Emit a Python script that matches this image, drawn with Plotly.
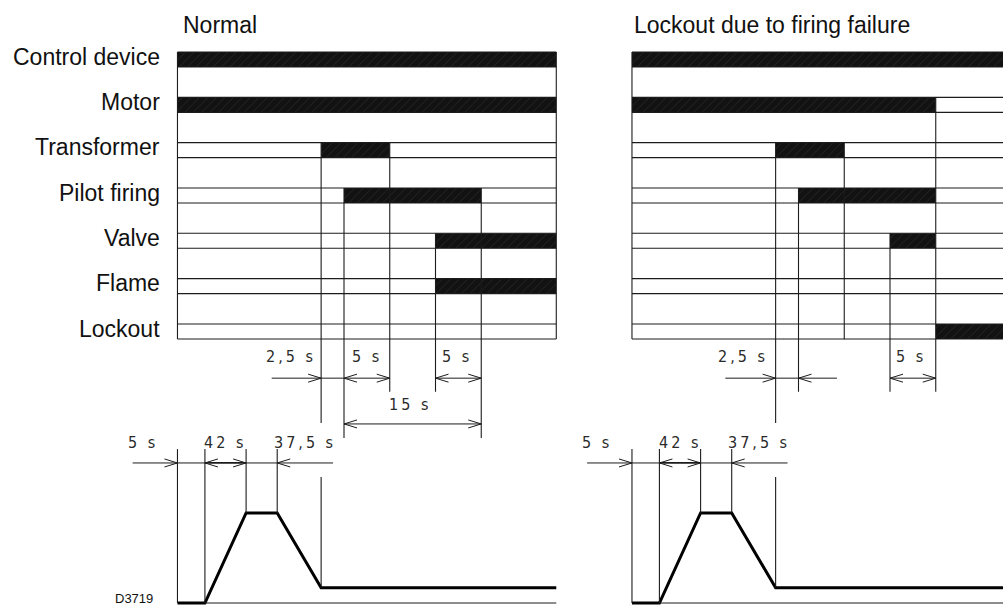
import plotly.graph_objects as go

# ---- timing data, seconds, 0 = start of pilot firing ----
signals = ["Control device", "Motor", "Transformer", "Pilot firing", "Valve", "Flame", "Lockout"]
T_MIN, T_MAX = -18.2, 23.2

normal_on = [T_MIN, T_MIN, -2.5, 0, 10, 10, None]
normal_off = [T_MAX, T_MAX, 5, 15, T_MAX, T_MAX, None]
failure_on = [T_MIN, T_MIN, -2.5, 0, 10, None, 15]
failure_off = [T_MAX, 15, 5, 15, 15, None, T_MAX]

# switching instants, row where each guide line starts, where it ends
normal_marks = [-2.5, 0, 5, 10, 15]
normal_mark_rows = [2, 3, 2, 4, 3]
normal_mark_ends = [8.02, 8.35, 7.33, 7.33, 8.35]
failure_marks = [-2.5, 0, 5, 10, 15]
failure_mark_rows = [2, 3, 2, 4, 1]
failure_mark_ends = [8.02, 7.33, 6.17, 7.33, 7.33]

# damper profile (schematic, not to scale)
ramp_t = [-18.2, -15.2, -10.7, -7.3, -2.5, T_MAX]
ramp_level = [0, 0, 1, 1, 0.17, 0.17]
ramp_guide_top = [1.71, 1.71, 1.71, 1.71, 1.4]

# ---- geometry ----
W, H = 1003, 605
PX_S = 9.15            # px per second
ORIGIN = [344, 798.5]  # pixel of t=0 in each panel
ROW_PX, ROW0 = 45.33, 59.5
HALF = 7.5 / ROW_PX    # half bar height in row units
LVL_PX, LVL0 = 90, 603

INK = "#1c1c1c"
DIM_FONT = dict(family="Liberation Sans Narrow, Arial Narrow, DejaVu Sans Condensed", size=16, color="#2a2a2a")
LBL_FONT = dict(family="Liberation Sans, Arial, sans-serif", size=23, color="#111")

CH_L = 13 / PX_S
CH_H_ROW = 4 / ROW_PX
CH_H_LVL = 4 / LVL_PX


def add_segments(fig, segs, xa, ya, width=1.1, color=INK):
    xs, ys = [], []
    for x0, y0, x1, y1 in segs:
        xs += [x0, x1, None]
        ys += [y0, y1, None]
    fig.add_trace(go.Scatter(x=xs, y=ys, mode="lines", xaxis=xa, yaxis=ya,
                             line=dict(color=color, width=width), hoverinfo="skip"))


def chevrons(tips, y, hh):
    segs = []
    for t, d in tips:
        segs.append((t - d * CH_L, y - hh, t, y))
        segs.append((t - d * CH_L, y + hh, t, y))
    return segs


def dim_text(fig, text, x, y, xa, ya):
    fig.add_annotation(text='<span style="letter-spacing:3px">%s</span>' % text,
                       x=x, y=y, xref=xa, yref=ya, showarrow=False,
                       font=DIM_FONT, xanchor="center", yanchor="middle")


fig = go.Figure()

panels = [
    ("x", normal_on, normal_off, normal_marks, normal_mark_rows, normal_mark_ends),
    ("x2", failure_on, failure_off, failure_marks, failure_mark_rows, failure_mark_ends),
]

for xa, on, off, marks, mrows, mends in panels:
    rows = list(range(len(signals)))
    # hatched "on" bars
    idx = [i for i in rows if on[i] is not None]
    fig.add_trace(go.Bar(
        orientation="h", y=idx, base=[on[i] for i in idx],
        x=[off[i] - on[i] for i in idx], width=2 * HALF, xaxis=xa, yaxis="y",
        marker=dict(color="#121212", line_width=0,
                    pattern=dict(shape="/", fgcolor="#4a4a4a", bgcolor="#121212",
                                 size=6, solidity=0.12)),
        hoverinfo="skip"))
    segs = []
    for i in rows:
        segs.append((T_MIN, i - HALF, T_MAX, i - HALF))
        segs.append((T_MIN, i + HALF, T_MAX, i + HALF))
    segs.append((T_MIN, -HALF, T_MIN, rows[-1] + HALF))
    segs.append((T_MAX, -HALF, T_MAX, rows[-1] + HALF))
    for t, r, e in zip(marks, mrows, mends):
        segs.append((t, r - HALF, t, e))
    add_segments(fig, segs, xa, "y")

    # damper profile
    fig.add_trace(go.Scatter(x=ramp_t, y=ramp_level, mode="lines", xaxis=xa, yaxis="y2",
                             line=dict(color="#000", width=3), hoverinfo="skip"))
    gsegs = [(ramp_t[1], 0, T_MAX, 0)]
    for t, top, bot in zip(ramp_t[:5], ramp_guide_top, ramp_level[:5]):
        gsegs.append((t, top, t, bot))
    add_segments(fig, gsegs, xa, "y2")

    # bottom dimensions
    yl = 1.556
    dsegs = [(-23.1, yl, -15.2, yl), (-10.7, yl, -1.2, yl)]
    dsegs += chevrons([(-18.2, 1), (-15.2, -1), (-10.7, 1), (-7.3, -1)], yl, CH_H_LVL)
    add_segments(fig, dsegs, xa, "y2", width=1)
    add_segments(fig, [(-15.2, yl, -10.7, yl)], xa, "y2", width=1.8)
    for txt, tx in [("5 s", -22.0), ("42 s", -13.0), ("37,5 s", -4.3)]:
        dim_text(fig, txt, tx, 1.778, xa, "y2")

# top dimensions, normal panel
yd = 7.03
segs = [(-7.9, yd, 5, yd), (10, yd, 15, yd), (0, 8.04, 15, 8.04)]
segs += chevrons([(-2.5, 1), (0, -1), (5, 1), (10, -1), (15, 1)], yd, CH_H_ROW)
segs += chevrons([(0, -1), (15, 1)], 8.04, CH_H_ROW)
add_segments(fig, segs, "x", "y", width=1)
for txt, tx, ty in [("2,5 s", -5.8, 6.56), ("5 s", 2.5, 6.56), ("5 s", 12.3, 6.56), ("15 s", 7.2, 7.6)]:
    dim_text(fig, txt, tx, ty, "x", "y")

# top dimensions, failure panel
segs = [(-8.0, yd, 4.2, yd), (10, yd, 15, yd)]
segs += chevrons([(-2.5, 1), (0, -1), (10, -1), (15, 1)], yd, CH_H_ROW)
add_segments(fig, segs, "x2", "y", width=1)
for txt, tx, ty in [("2,5 s", -6.1, 6.56), ("5 s", 12.3, 6.56)]:
    dim_text(fig, txt, tx, ty, "x2", "y")

# row labels and titles
for i, name in enumerate(signals):
    fig.add_annotation(text=name, x=162 / W, xref="paper", y=i - 0.06, yref="y", showarrow=False,
                       xanchor="right", yanchor="middle", font=LBL_FONT)
fig.add_annotation(text="Normal", x=-17.8, xref="x", y=-0.76, yref="y", showarrow=False,
                   xanchor="left", yanchor="middle", font=LBL_FONT)
fig.add_annotation(text="Lockout due to firing failure", x=-18.2, xref="x2", y=-0.76, yref="y",
                   showarrow=False, xanchor="left", yanchor="middle", font=LBL_FONT)
fig.add_annotation(text="D3719", x=155 / W, xref="paper", y=(LVL0 - 598) / LVL_PX, yref="y2",
                   showarrow=False, xanchor="right", yanchor="middle",
                   font=dict(family="Liberation Sans, Arial, sans-serif", size=13, color="#111"))

hidden = dict(visible=False, showgrid=False, zeroline=False, fixedrange=True)
fig.update_layout(
    width=W, height=H, margin=dict(l=0, r=0, t=0, b=0),
    paper_bgcolor="white", plot_bgcolor="white", showlegend=False, barmode="overlay",
    xaxis=dict(range=[-ORIGIN[0] / PX_S, (W - ORIGIN[0]) / PX_S], domain=[0, 1], **hidden),
    xaxis2=dict(range=[-ORIGIN[1] / PX_S, (W - ORIGIN[1]) / PX_S], domain=[0, 1],
                overlaying="x", anchor="y", **hidden),
    yaxis=dict(range=[(H - ROW0) / ROW_PX, -ROW0 / ROW_PX], domain=[0, 1], **hidden),
    yaxis2=dict(range=[(LVL0 - H) / LVL_PX, LVL0 / LVL_PX], domain=[0, 1],
                overlaying="y", anchor="x", **hidden),
)

fig.write_html("out.html", config={"displayModeBar": False},
               post_script="document.body.style.margin='0';document.body.style.overflow='hidden';")
